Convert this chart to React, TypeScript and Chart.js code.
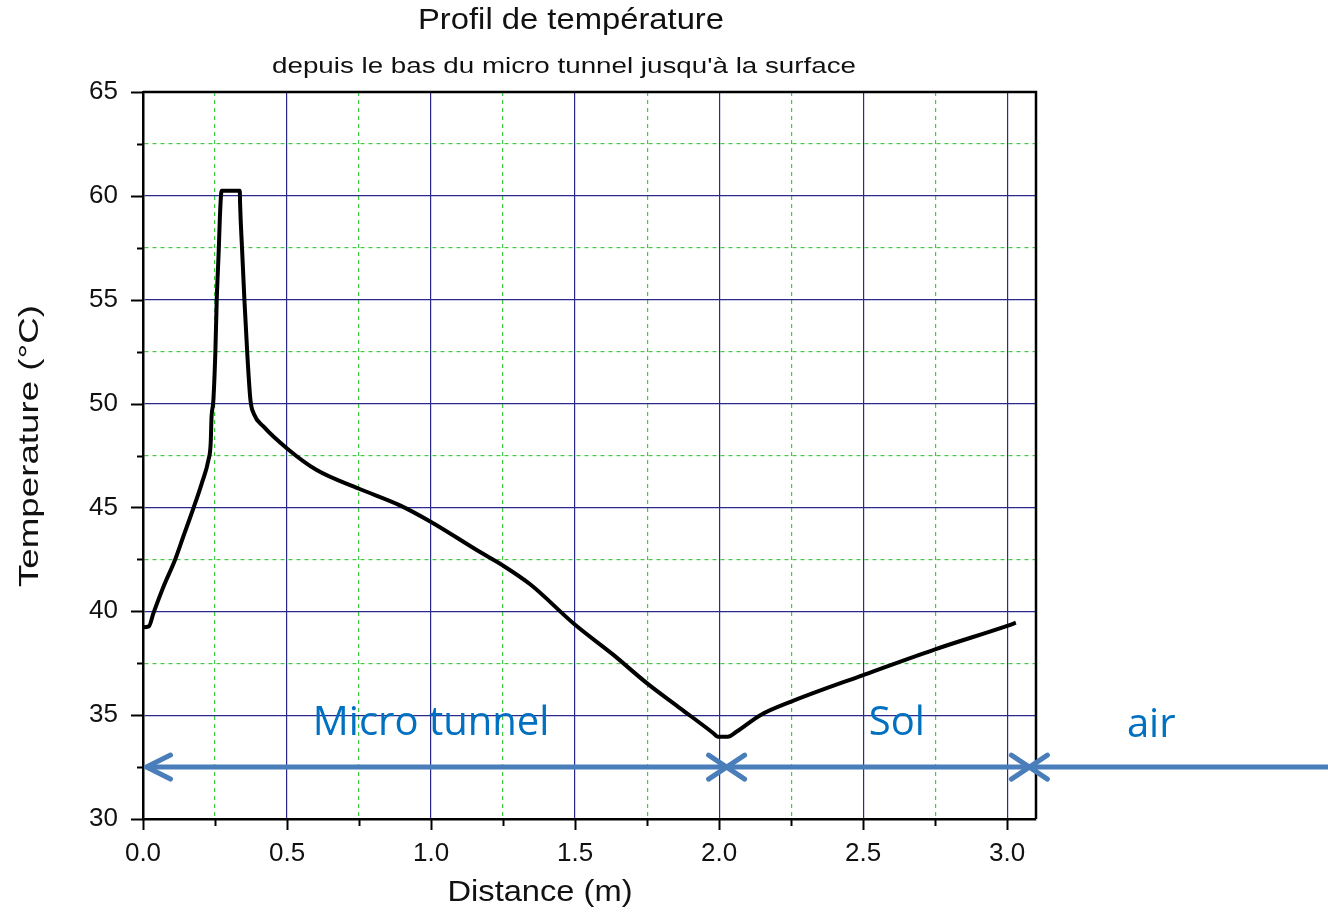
import React, { useEffect, useRef } from 'react';
import { Chart, registerables } from 'chart.js';

Chart.register(...registerables);

// ---- Data ----
const distance = [
  0.0, 0.02, 0.036, 0.071, 0.111, 0.14, 0.175, 0.204, 0.227, 0.235, 0.238, 0.244,
  0.251, 0.256, 0.263, 0.267, 0.273, 0.336, 0.337, 0.344, 0.352, 0.362, 0.373, 0.385,
  0.418, 0.5, 0.603, 0.75, 0.892, 1.0, 1.17, 1.25, 1.344, 1.5, 1.633, 1.75, 1.865,
  1.98, 1.995, 2.03, 2.06, 2.143, 2.25, 2.5, 2.75, 3.0, 3.03,
];
const temperature = [
  39.23, 39.27, 39.9, 41.18, 42.47, 43.6, 44.96, 46.16, 47.28, 48.1, 49.37, 50.1,
  52.4, 55.0, 57.4, 59.0, 60.25, 60.25, 59.64, 57.4, 55.0, 52.4, 50.17, 49.5,
  48.9, 47.84, 46.8, 45.9, 45.1, 44.3, 42.85, 42.2, 41.3, 39.35, 37.9, 36.53, 35.33,
  34.13, 33.96, 33.96, 34.2, 35.0, 35.65, 36.93, 38.17, 39.3, 39.45,
];

const xMin = 0;
const xMax = 3.1;
const xStep = 0.25;
const xMajorStep = 0.5;
const yMin = 30;
const yMax = 65;
const yStep = 2.5;
const yMajorStep = 5;

const titleText = 'Profil de température';
const subtitleText = "depuis le bas du micro tunnel jusqu'à la surface";
const xAxisTitle = 'Distance (m)';
const yAxisTitle = 'Temperature (°C)';

// Region annotations (data coordinates)
const regionLabels = ['Micro tunnel', 'Sol', 'air'];
const regionLabelX = [1.0, 2.617, 3.5];
const regionLabelY = [34.02, 34.02, 33.95];
const arrowLevel = 32.5;
const arrowStart = 0.012;
const boundaryMarks = [2.026, 3.077];

const NAVY = '#2a2a8c';
const GREEN = '#46c846';
const ARROW_BLUE = '#4a7ebb';
const LABEL_BLUE = '#0070c0';

const isMultiple = (v: number, step: number) => Math.abs(v / step - Math.round(v / step)) < 1e-6;

function drawFitted(
  ctx: CanvasRenderingContext2D,
  text: string,
  cx: number,
  cy: number,
  targetWidth: number,
  font: string,
  rotate = 0
) {
  ctx.save();
  ctx.font = font;
  const w = ctx.measureText(text).width;
  const s = targetWidth / w;
  ctx.translate(cx, cy);
  if (rotate) ctx.rotate(rotate);
  ctx.scale(s, 1);
  ctx.textAlign = 'center';
  ctx.textBaseline = 'middle';
  ctx.fillStyle = '#111';
  ctx.fillText(text, 0, 0);
  ctx.restore();
}

const decorPlugin = {
  id: 'decor',
  afterDraw(chart: any) {
    const { ctx, chartArea, scales } = chart;
    const xs = scales.x;
    const ys = scales.y;
    const { left, right, top, bottom } = chartArea;

    // frame (top & right)
    ctx.save();
    ctx.strokeStyle = '#000';
    ctx.lineWidth = 2.5;
    ctx.beginPath();
    ctx.moveTo(left, top);
    ctx.lineTo(right, top);
    ctx.lineTo(right, bottom);
    ctx.stroke();

    // tick marks
    ctx.lineWidth = 2;
    for (let v = xMin; v <= 3.0 + 1e-9; v += xStep) {
      const px = Math.round(xs.getPixelForValue(v)) + 0.5;
      const len = isMultiple(v, xMajorStep) ? 11 : 7;
      ctx.beginPath();
      ctx.moveTo(px, bottom);
      ctx.lineTo(px, bottom + len);
      ctx.stroke();
    }
    for (let v = yMin; v <= yMax + 1e-9; v += yStep) {
      const py = Math.round(ys.getPixelForValue(v)) + 0.5;
      const len = isMultiple(v, yMajorStep) ? 12 : 6;
      ctx.beginPath();
      ctx.moveTo(left, py);
      ctx.lineTo(left - len, py);
      ctx.stroke();
    }
    ctx.restore();

    // titles
    drawFitted(ctx, titleText, 571, 21, 306, '30px "Liberation Sans", Arial, sans-serif');
    drawFitted(ctx, subtitleText, 564, 67, 584, '22px "Liberation Sans", Arial, sans-serif');
    drawFitted(ctx, xAxisTitle, 540, 893, 185, '29px "Liberation Sans", Arial, sans-serif');
    drawFitted(ctx, yAxisTitle, 30, 446, 282, '28px "Liberation Sans", Arial, sans-serif', -Math.PI / 2);

    // arrows and boundary marks
    const ay = ys.getPixelForValue(arrowLevel);
    const ax0 = xs.getPixelForValue(arrowStart);
    ctx.save();
    ctx.strokeStyle = ARROW_BLUE;
    ctx.lineWidth = 5;
    ctx.lineCap = 'round';
    ctx.lineJoin = 'round';
    ctx.beginPath();
    ctx.moveTo(ax0 + 2, ay);
    ctx.lineTo(chart.width + 5, ay);
    ctx.stroke();
    ctx.beginPath();
    ctx.moveTo(ax0 + 24, ay - 12);
    ctx.lineTo(ax0, ay);
    ctx.lineTo(ax0 + 24, ay + 12);
    ctx.stroke();
    boundaryMarks.forEach((m) => {
      const mx = xs.getPixelForValue(m);
      ctx.beginPath();
      ctx.moveTo(mx - 18, ay - 12);
      ctx.lineTo(mx + 18, ay + 12);
      ctx.moveTo(mx - 18, ay + 12);
      ctx.lineTo(mx + 18, ay - 12);
      ctx.stroke();
    });
    ctx.restore();

    // region labels
    ctx.save();
    ctx.fillStyle = LABEL_BLUE;
    ctx.font = '40px "Open Sans", "Noto Sans", sans-serif';
    ctx.textAlign = 'center';
    ctx.textBaseline = 'alphabetic';
    regionLabels.forEach((t, i) => {
      ctx.fillText(t, xs.getPixelForValue(regionLabelX[i]), ys.getPixelForValue(regionLabelY[i]));
    });
    ctx.restore();
  },
};

export default function App() {
  const canvasRef = useRef<HTMLCanvasElement | null>(null);

  useEffect(() => {
    if (!canvasRef.current) return;
    const points = distance.map((d, i) => ({ x: d, y: temperature[i] }));
    const chart = new Chart(canvasRef.current, {
      type: 'scatter',
      data: {
        datasets: [
          {
            label: 'Temperature',
            data: points,
            showLine: true,
            borderColor: '#000',
            backgroundColor: '#000',
            borderWidth: 4,
            pointRadius: 0,
            cubicInterpolationMode: 'monotone',
            borderJoinStyle: 'round',
          },
        ],
      },
      options: {
        responsive: false,
        animation: false,
        devicePixelRatio: 1,
        layout: { padding: { top: 92, right: 292, left: 0, bottom: 0 } },
        plugins: {
          legend: { display: false },
          tooltip: { enabled: false },
          title: { display: false },
        },
        scales: {
          x: {
            type: 'linear',
            min: xMin,
            max: xMax,
            afterFit: (s: any) => {
              s.height = 94;
            },
            ticks: {
              stepSize: xStep,
              autoSkip: false,
              includeBounds: false,
              maxRotation: 0,
              padding: 19,
              color: '#111',
              font: { family: '"Liberation Sans", Arial, sans-serif', size: 26 },
              callback: (v: any) => (isMultiple(Number(v), xMajorStep) ? Number(v).toFixed(1) : ''),
            },
            grid: {
              drawTicks: false,
              lineWidth: 1.2,
              color: (c: any) =>
                c.tick && !isMultiple(c.tick.value, xMajorStep) ? GREEN : NAVY,
            },
            border: {
              color: '#000',
              width: 2.5,
              dash: (c: any) =>
                c.tick && !isMultiple(c.tick.value, xMajorStep) ? [4, 4] : [],
            },
          },
          y: {
            type: 'linear',
            min: yMin,
            max: yMax,
            afterFit: (s: any) => {
              s.width = 143;
            },
            ticks: {
              stepSize: yStep,
              autoSkip: false,
              padding: 25,
              color: '#111',
              font: { family: '"Liberation Sans", Arial, sans-serif', size: 26 },
              callback: (v: any) => (isMultiple(Number(v), yMajorStep) ? String(v) : ''),
            },
            grid: {
              drawTicks: false,
              lineWidth: 1.2,
              color: (c: any) =>
                c.tick && !isMultiple(c.tick.value, yMajorStep) ? GREEN : NAVY,
            },
            border: {
              color: '#000',
              width: 2.5,
              dash: (c: any) =>
                c.tick && !isMultiple(c.tick.value, yMajorStep) ? [4, 4] : [],
            },
          },
        },
      } as any,
      plugins: [decorPlugin],
    });
    return () => chart.destroy();
  }, []);

  return (
    <div
      style={{
        position: 'absolute',
        left: 0,
        top: 0,
        width: 1328,
        height: 913,
        background: '#fff',
      }}
    >
      <canvas ref={canvasRef} width={1328} height={913} style={{ width: 1328, height: 913 }} />
    </div>
  );
}
